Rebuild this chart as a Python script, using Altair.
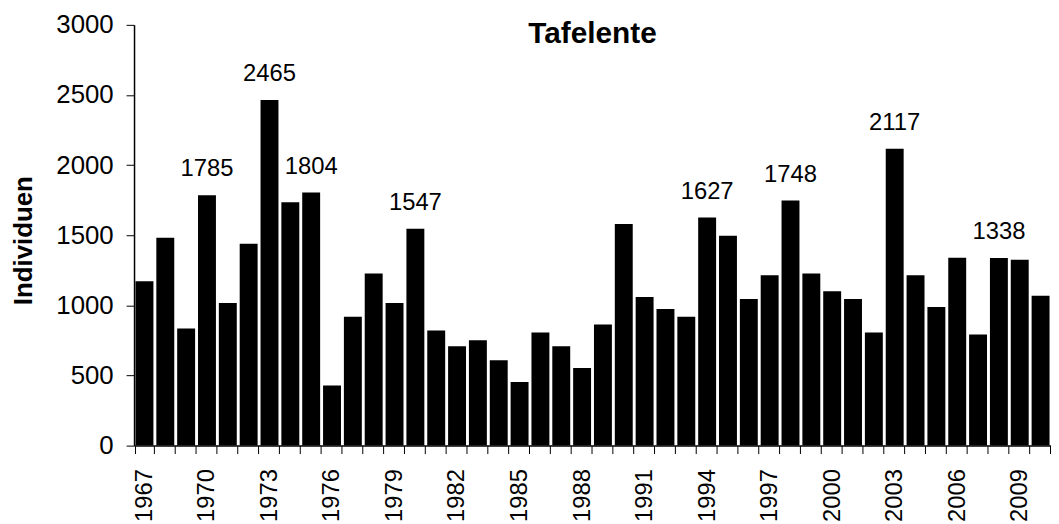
import altair as alt
import pandas as pd

years = list(range(1967, 2011))
values = [1172, 1482, 835, 1785, 1016, 1440, 2465, 1736, 1804, 428,
          918, 1228, 1016, 1547, 821, 708, 751, 609, 454, 807,
          708, 553, 864, 1581, 1059, 974, 918, 1627, 1496, 1045,
          1214, 1748, 1228, 1101, 1045, 807, 2117, 1214, 988, 1340,
          793, 1338, 1326, 1068]
labelled_years = [1970, 1973, 1975, 1980, 1994, 1998, 2003, 2008]
y_ticks = [0, 500, 1000, 1500, 2000, 2500, 3000]

df = pd.DataFrame({
    "Jahr": years,
    "Individuen": values,
    "Label": [str(v) if y in labelled_years else "" for y, v in zip(years, values)],
})

FONT = "Liberation Sans"

x_enc = alt.X(
    "Jahr:O",
    scale=alt.Scale(paddingInner=0.14, paddingOuter=0.07),
    axis=alt.Axis(
        title=None,
        labelAngle=270,
        labelFontSize=24,
        labelFont=FONT,
        labelColor="black",
        labelPadding=15,
        labelOverlap=False,
        labelExpr="(datum.value - 1967) % 3 == 0 ? datum.label : ''",
        tickBand="extent",
        tickSize=8,
        tickColor="black",
        tickWidth=1,
        domainColor="black",
        domainWidth=1.5,
    ),
)

y_enc = alt.Y(
    "Individuen:Q",
    scale=alt.Scale(domain=[0, 3000], nice=False),
    axis=alt.Axis(
        title="Individuen",
        values=y_ticks,
        format="d",
        grid=False,
        labelFontSize=26,
        labelFont=FONT,
        labelColor="black",
        labelPadding=13,
        tickSize=8,
        tickColor="black",
        tickWidth=1,
        domainColor="black",
        domainWidth=1.5,
        titleFont=FONT,
        titleFontSize=26,
        titleFontWeight="bold",
        titleColor="black",
        titleAngle=270,
        titleAlign="center",
        titleBaseline="alphabetic",
        titleX=-103,
        titleY=217,
    ),
)

bars = alt.Chart(df).mark_bar(color="black").encode(x=x_enc, y=y_enc)

labels = alt.Chart(df).transform_filter("datum.Label != ''").mark_text(
    font=FONT, fontSize=24, color="black", dy=-19, baseline="alphabetic", align="center"
).encode(x="Jahr:O", y="Individuen:Q", text="Label:N")

chart = (bars + labels).properties(
    width=924,
    height=424,
    title=alt.TitleParams(
        "Tafelente",
        font=FONT,
        fontSize=30,
        fontWeight="bold",
        color="black",
        anchor="middle",
        frame="group",
        baseline="alphabetic",
        offset=0,
        dy=61,
    ),
    autosize=alt.AutoSizeParams(type="none"),
    padding={"left": 127, "top": 15, "right": 0, "bottom": 77},
).configure_view(stroke=None)

chart.save("out.html", embed_options={"renderer": "svg", "actions": False})
